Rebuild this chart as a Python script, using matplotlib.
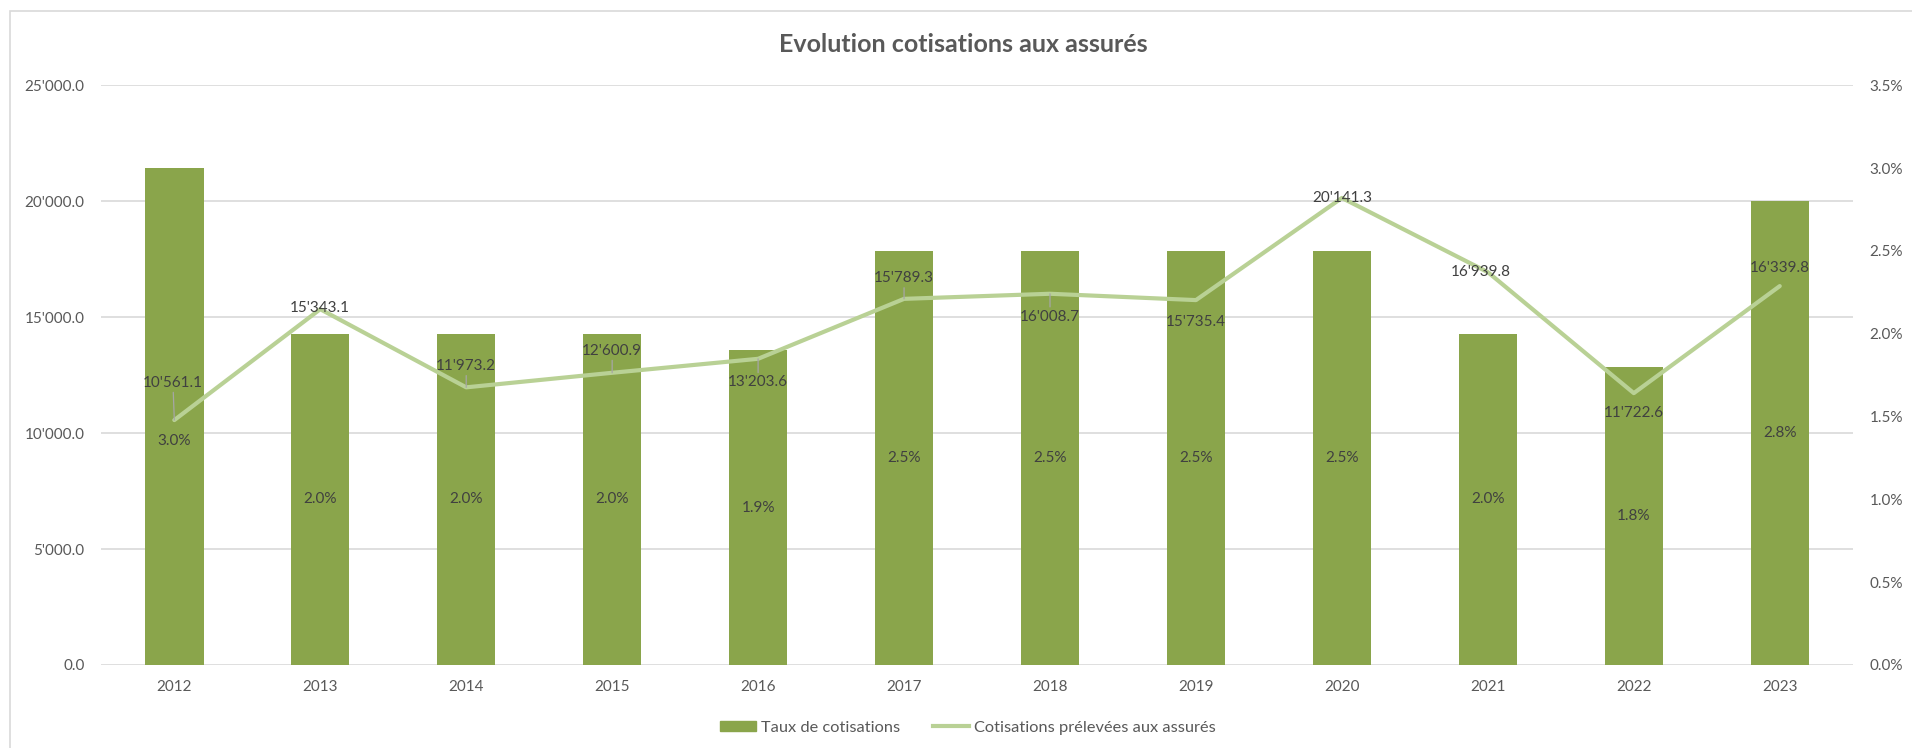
import matplotlib
matplotlib.use("Agg")
import matplotlib.pyplot as plt
from matplotlib.patches import Rectangle
from matplotlib.lines import Line2D
from matplotlib.ticker import FuncFormatter

# ---- data ----
years = ["2012", "2013", "2014", "2015", "2016", "2017", "2018", "2019", "2020", "2021", "2022", "2023"]
taux = [3.0, 2.0, 2.0, 2.0, 1.9, 2.5, 2.5, 2.5, 2.5, 2.0, 1.8, 2.8]          # % (right axis)
cotisations = [10561.1, 15343.1, 11973.2, 12600.9, 13203.6, 15789.3,
               16008.7, 15735.4, 20141.3, 16939.8, 11722.6, 16339.8]       # left axis
left_ticks = [0, 5000, 10000, 15000, 20000, 25000]
right_ticks = [0.0, 0.5, 1.0, 1.5, 2.0, 2.5, 3.0, 3.5]

# ---- styling ----
plt.rcParams['font.family'] = ['Lato', 'DejaVu Sans']
bar_color = '#8aa54b'
line_color = '#b9d195'
txt = '#595959'
lbl = '#404040'
grid_c = '#d9d9d9'
FS = 11
# label placement (styling): line-label offsets in points (dx, dy; + = up)
line_lbl_dy = [27, 1, 15.5, 16, -17, 15, -16.5, -16, 0, 0, -14, 13]
line_lbl_dx = [-1, 0, 0, 0, 0, 0, 0, 0, 0, -5, 0, 0]
line_leader = [True, False, True, True, True, True, True, False, False, False, False, False]
# bar-label height as a fraction of bar height
bar_lbl_frac = [0.45, 0.5, 0.5, 0.5, 0.5, 0.5, 0.5, 0.5, 0.5, 0.5, 0.5, 0.5]

def thousands(v, pos=None):
    return f"{v:,.1f}".replace(",", "'")

fig = plt.figure(figsize=(19.12, 7.48), dpi=100)
fig.patch.set_facecolor('white')
# outer frame
fig.add_artist(Rectangle((0.005, -0.1), 1.1, 1.085, transform=fig.transFigure,
                         fill=False, edgecolor='#d9d9d9', lw=1.2))

ax = fig.add_axes([0.053, 0.111, 0.916, 0.775])
x = list(range(len(years)))
ax.set_xlim(-0.5, len(years) - 0.5)
ax.set_ylim(0, 25000)
ax.set_yticks(left_ticks)
ax.yaxis.set_major_formatter(FuncFormatter(thousands))
ax.grid(axis='y', color=grid_c, lw=1.2)
ax.set_axisbelow(True)
ax.set_xticks(x)
ax.set_xticklabels(years)
ax.tick_params(axis='both', length=0, labelsize=FS, colors=txt)
ax.tick_params(axis='x', pad=11)
ax.tick_params(axis='y', pad=12)
for s in ax.spines.values():
    s.set_visible(False)

# bars on right (percent) axis
ax2 = ax.twinx()
ax2.set_ylim(0, 3.5)
ax2.set_yticks(right_ticks)
ax2.yaxis.set_major_formatter(FuncFormatter(lambda v, p: f"{v:.1f}%"))
ax2.tick_params(axis='y', length=0, labelsize=FS, colors=txt, pad=12)
for s in ax2.spines.values():
    s.set_visible(False)
ax2.bar(x, taux, width=0.4, color=bar_color, zorder=2)
for xi, v, f in zip(x, taux, bar_lbl_frac):
    ax2.text(xi, v * f, f"{v:.1f}%", ha='center', va='center', fontsize=FS, color=lbl)

# line on left scale, drawn on top
ax3 = ax.twinx()
ax3.set_ylim(0, 25000)
ax3.set_yticks([])
for s in ax3.spines.values():
    s.set_visible(False)
ax3.plot(x, cotisations, color=line_color, lw=3.0, solid_joinstyle='round',
         solid_capstyle='round', zorder=3)
for xi, v, dx, dy, lead in zip(x, cotisations, line_lbl_dx, line_lbl_dy, line_leader):
    ax3.annotate(thousands(v), xy=(xi, v), xytext=(dx, dy), textcoords='offset points',
                 ha='center', va='center', fontsize=FS, color=lbl, zorder=4,
                 arrowprops=dict(arrowstyle='-', color='#a6a6a6', lw=0.9,
                                 shrinkA=0, shrinkB=0) if lead else None)

fig.text(0.504, 0.941, "Evolution cotisations aux assurés", ha='center', va='center',
         fontsize=18, fontweight='bold', color=txt)

handles = [Rectangle((0, 0), 1, 1, color=bar_color),
           Line2D([0], [0], color=line_color, lw=3.0)]
fig.legend(handles, ["Taux de cotisations", "Cotisations prélevées aux assurés"],
           loc='center', bbox_to_anchor=(0.506, 0.027), ncol=2, frameon=False,
           fontsize=11.8, labelcolor=txt, handlelength=2.2, handleheight=0.6,
           handletextpad=0.3, columnspacing=2.0)

fig.savefig("out.png", dpi=100, facecolor='white')
